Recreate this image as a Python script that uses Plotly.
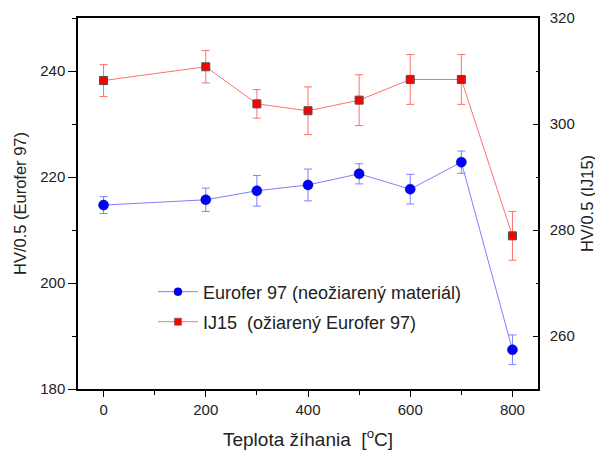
import plotly.graph_objects as go

temps = [0, 200, 300, 400, 500, 600, 700, 800]
eurofer = [214.7, 215.7, 217.4, 218.5, 220.6, 217.7, 222.8, 187.4]
eurofer_err = [1.6, 2.2, 2.9, 3.0, 1.9, 2.8, 2.1, 2.8]
ij15 = [308.2, 310.8, 303.8, 302.5, 304.5, 308.4, 308.4, 278.9]
ij15_err = [3.0, 3.05, 2.7, 4.5, 4.8, 4.7, 4.7, 4.6]

name_e = "Eurofer 97 (neožiarený materiál)"
name_i = "IJ15  (ožiarený Eurofer 97)"

font = "Liberation Sans, Arial, sans-serif"
txt = "#222"
blue_line = "#7f7fff"
red_line = "#ff7070"

fig = go.Figure()
fig.add_trace(go.Scatter(
    x=temps, y=eurofer, mode="lines+markers", name=name_e, showlegend=False,
    line=dict(color=blue_line, width=1),
    marker=dict(symbol="circle", size=10, color="#0000ff", line=dict(color="#000080", width=0.5)),
    error_y=dict(type="data", array=eurofer_err, color=blue_line, thickness=1, width=4),
    yaxis="y"))
fig.add_trace(go.Scatter(
    x=temps, y=ij15, mode="lines+markers", name=name_i, showlegend=False,
    line=dict(color=red_line, width=1),
    marker=dict(symbol="square", size=8, color="#ff0000", line=dict(color="#505050", width=1)),
    error_y=dict(type="data", array=ij15_err, color=red_line, thickness=1, width=4),
    yaxis="y2"))
# legend entries (smaller symbols, as in the reference legend)
fig.add_trace(go.Scatter(
    x=[None], y=[None], mode="lines+markers", name=name_e, legend="legend",
    line=dict(color=blue_line, width=1),
    marker=dict(symbol="circle", size=8, color="#0000ff", line=dict(color="#000080", width=0.5))))
fig.add_trace(go.Scatter(
    x=[None], y=[None], mode="lines+markers", name=name_i, legend="legend2", yaxis="y2",
    line=dict(color=red_line, width=1),
    marker=dict(symbol="square", size=7, color="#ff0000", line=dict(color="#505050", width=0.5))))

axis_common = dict(showgrid=False, zeroline=False, showline=True, linecolor="#000", linewidth=1.5,
                   tickwidth=1, tickcolor="#000", automargin=False,
                   tickfont=dict(family=font, size=15, color=txt))

leg_common = dict(xanchor="left", yanchor="middle", bgcolor="rgba(0,0,0,0)",
                  font=dict(family=font, size=18, color=txt), itemwidth=40)

fig.update_layout(
    width=603, height=450,
    margin=dict(l=70, r=73, t=10, b=69),
    paper_bgcolor="white", plot_bgcolor="white",
    font=dict(family=font, color=txt),
    xaxis=dict(range=[-50, 850], tickvals=[0, 200, 400, 600, 800], mirror=True,
               ticks="outside", ticklen=6,
               minor=dict(tickvals=[100, 300, 500, 700], ticklen=4, tickcolor="#000", ticks="outside"),
               title=dict(text="Teplota žíhania  [<sup>o</sup>C]", font=dict(family=font, size=19, color=txt), standoff=16),
               **axis_common),
    yaxis=dict(range=[180, 250], tickvals=[180, 200, 220, 240],
               ticks="outside", ticklen=8,
               minor=dict(tickvals=[190, 210, 230, 250], ticklen=4, tickcolor="#000", ticks="outside"),
               title=dict(text="HV/0.5 (Eurofer 97)", font=dict(family=font, size=16.5, color=txt), standoff=9),
               **axis_common),
    yaxis2=dict(range=[250, 320], tickvals=[260, 280, 300, 320], overlaying="y", side="right",
                ticks="inside", ticklen=5, ticklabelstandoff=7,
                minor=dict(tickvals=[250, 270, 290, 310], ticklen=2, tickcolor="#000", ticks="inside"),
                title=dict(text="HV/0.5 (IJ15)", font=dict(family=font, size=16.5, color=txt), standoff=8),
                **axis_common),
    legend=dict(x=0.163, y=0.2615, **leg_common),
    legend2=dict(x=0.163, y=0.1806, **leg_common),
    showlegend=True,
)

fig.write_html("out.html")
